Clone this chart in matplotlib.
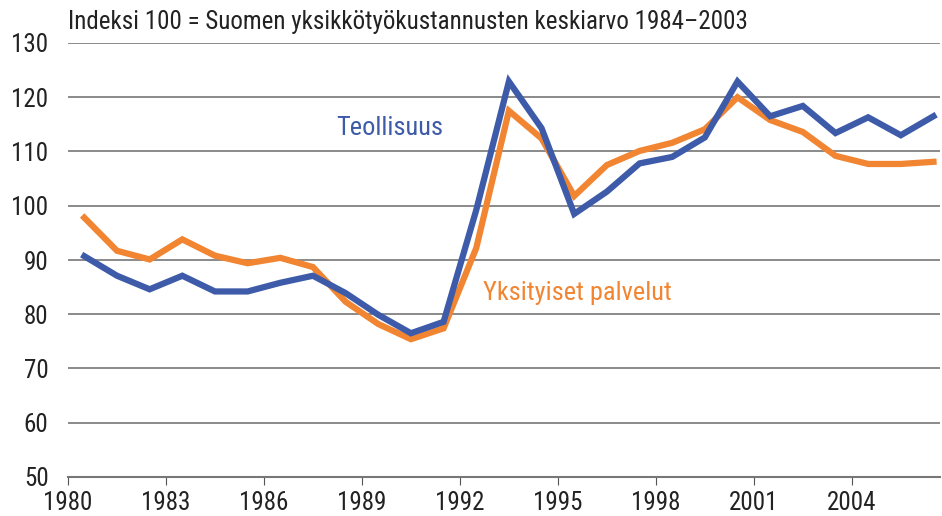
import numpy as np
import matplotlib.pyplot as plt

plt.rcParams['font.family'] = ['Roboto Condensed', 'Liberation Sans Narrow', 'Roboto', 'DejaVu Sans']

vuodet = list(range(1980, 2007))
teollisuus = [90.7, 87.1, 84.6, 87.1, 84.2, 84.2, 85.8, 87.1, 83.9, 79.9,
              76.5, 78.6, 99.2, 122.9, 114.3, 98.5, 102.6, 107.8, 109.0, 112.6,
              122.9, 116.5, 118.4, 113.4, 116.3, 113.0, 116.5]
palvelut = [97.8, 91.7, 90.1, 93.8, 90.8, 89.4, 90.4, 88.7, 82.3, 78.2,
            75.4, 77.4, 92.2, 117.5, 112.4, 101.8, 107.5, 110.1, 111.6, 114.1,
            120.0, 115.8, 113.6, 109.2, 107.7, 107.7, 108.1]
xtikit = list(range(1980, 2005, 3))
ytikit = list(range(50, 131, 10))

sininen = '#3d5ba8'
oranssi = '#f18532'

fig = plt.figure(figsize=(9.42, 5.16), dpi=100)
ax = fig.add_axes([68/942, 39/516, 872/942, 434/516])

x = np.array(vuodet) + 0.5
ax.plot(x, palvelut, c=oranssi, linewidth=4.5, solid_joinstyle='miter')
ax.plot(x, teollisuus, c=sininen, linewidth=4.5, solid_joinstyle='miter')

ax.set_xlim(1980, 2006.7)
ax.set_ylim(50, 130)
ax.set_yticks(ytikit)
ax.set_xticks(xtikit)
ax.set_xticklabels([str(v) for v in xtikit])
for y in ytikit[1:]:
    ax.axhline(y, color='#777777', linewidth=1.2, zorder=0)

for s in ['top', 'right', 'left']:
    ax.spines[s].set_visible(False)
ax.spines['bottom'].set_color('#777777')
ax.spines['bottom'].set_linewidth(1.5)
ax.tick_params(axis='y', length=0, pad=14, labelsize=18, labelcolor='#222222')
ax.tick_params(axis='x', length=6, color='#555555', pad=4, labelsize=18, labelcolor='#222222')

ax.text(1989.85, 114.3, 'Teollisuus', color=sininen, fontsize=19, ha='center', va='center')
ax.text(1995.6, 83.9, 'Yksityiset palvelut', color=oranssi, fontsize=19, ha='center', va='center')
fig.text(68/942, 1 - 22/516, 'Indeksi 100 = Suomen yksikkötyökustannusten keskiarvo 1984\u20132003',
         fontsize=18, color='#222222', va='center')

plt.savefig('out.png', dpi=100)
